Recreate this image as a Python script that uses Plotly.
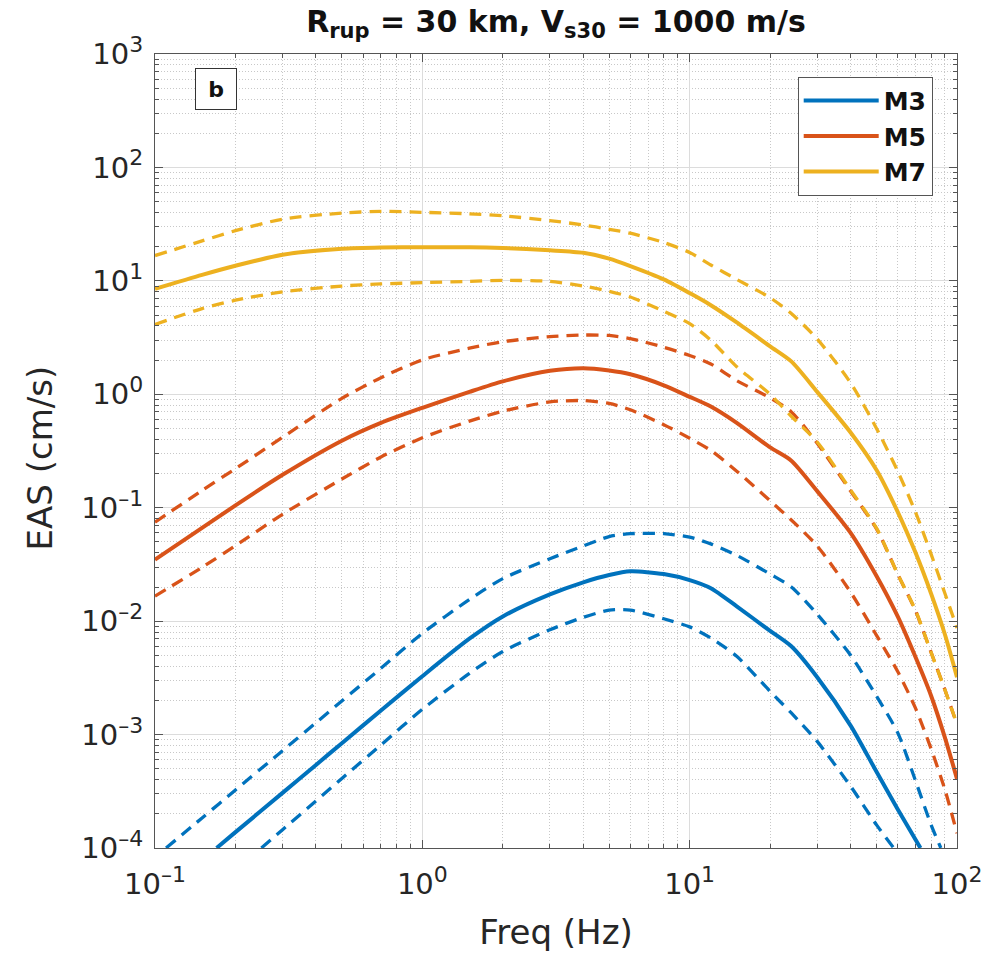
import plotly.graph_objects as go

# ---------------- data ----------------
freq = [0.1, 0.15, 0.2, 0.3, 0.5, 0.7, 1, 1.5, 2, 3, 4, 5, 6, 8, 10, 12, 15,
        20, 24, 30, 40, 50, 60, 70, 80, 90, 100]

m7_mean = [8.5, 11.3, 13.6, 17.0, 19.2, 19.7, 19.8, 19.8, 19.5, 18.6, 17.7, 15.7,
           13.5, 10.3, 7.8, 6.1, 4.3, 2.65, 1.95, 1.05, 0.46, 0.215, 0.092, 0.040,
           0.0175, 0.0077, 0.0032]
m7_upper = [16.7, 22.5, 27.7, 35, 39.6, 41, 40.2, 39, 37.5, 34, 31.1, 28.5, 26.3,
            21.8, 17.8, 13.8, 10.3, 7.1, 5.15, 3.07, 1.26, 0.50, 0.21, 0.091,
            0.039, 0.0177, 0.0087]
m7_lower = [4.13, 5.7, 6.75, 8.0, 9.0, 9.4, 9.64, 9.9, 10.1, 9.9, 9.0, 8.1, 7.2,
            5.4, 4.2, 3.0, 1.75, 1.0, 0.64, 0.38, 0.143, 0.066, 0.026, 0.0124,
            0.0053, 0.0025, 0.00124]

m5_mean = [0.0348, 0.0663, 0.1048, 0.195, 0.39, 0.56, 0.76, 1.05, 1.30, 1.61, 1.70,
           1.62, 1.5, 1.2, 0.95, 0.78, 0.56, 0.34, 0.26, 0.14, 0.06, 0.025, 0.011,
           0.0048, 0.0022, 0.00095, 0.000407]
m5_upper = [0.0745, 0.142, 0.221, 0.418, 0.92, 1.4, 2.01, 2.55, 2.91, 3.22, 3.33,
            3.3, 3.1, 2.6, 2.2, 1.85, 1.32, 0.93, 0.7, 0.37, 0.14, 0.065, 0.026,
            0.0123, 0.0053, 0.0025, 0.00123]
m5_lower = [0.0166, 0.0298, 0.0463, 0.0875, 0.179, 0.28, 0.414, 0.58, 0.71, 0.857,
            0.88, 0.83, 0.73, 0.54, 0.41, 0.32, 0.21, 0.115, 0.078, 0.046, 0.018,
            0.0075, 0.0036, 0.0017, 0.00075, 0.00033, 0.000135]

m3_mean_f = [0.17, 0.2, 0.3, 0.4, 0.5, 0.7, 1, 1.5, 2, 3, 4, 5, 6, 8, 10, 12, 15,
             20, 24, 30, 40, 50, 60, 73]
m3_mean = [1e-4, 1.38e-4, 3.06e-4, 5.4e-4, 8.4e-4, 1.63e-3, 3.27e-3, 7.0e-3, 0.011,
           0.0172, 0.022, 0.0255, 0.0275, 0.026, 0.023, 0.0195, 0.0135, 0.0082,
           0.006, 0.0032, 0.0012, 4.7e-4, 2.2e-4, 1e-4]
m3_upper_f = [0.11, 0.15, 0.2, 0.3, 0.4, 0.5, 0.7, 1, 1.5, 2, 3, 4, 5, 6, 8, 10,
              12, 15, 20, 24, 30, 40, 50, 60, 70, 80, 87]
m3_upper = [1e-4, 1.84e-4, 3.25e-4, 7.2e-4, 1.27e-3, 1.98e-3, 3.84e-3, 7.8e-3, 0.0155,
            0.0237, 0.0355, 0.046, 0.0557, 0.059, 0.059, 0.055, 0.048, 0.038,
            0.026, 0.020, 0.0115, 0.005, 0.00218, 0.00104, 3.9e-4, 1.6e-4, 1e-4]
m3_lower_f = [0.25, 0.3, 0.4, 0.5, 0.7, 1, 1.5, 2, 3, 4, 5, 6, 8, 10, 12, 15, 20,
              24, 30, 40, 50, 58]
m3_lower = [1e-4, 1.45e-4, 2.6e-4, 4.1e-4, 8.1e-4, 1.67e-3, 3.46e-3, 5.4e-3, 8.4e-3,
            0.0108, 0.0125, 0.0125, 0.0105, 0.0089, 0.0071, 0.0049, 0.0024,
            0.00155, 8.7e-4, 3.5e-4, 1.6e-4, 1e-4]

x_tick_vals = [0.1, 1, 10, 100]
x_tick_exp = ["\u20131", "0", "1", "2"]
y_tick_vals = [1e-4, 1e-3, 1e-2, 1e-1, 1, 10, 100, 1000]
y_tick_exp = ["\u20134", "\u20133", "\u20132", "\u20131", "0", "1", "2", "3"]


def pow_label(e):
    return "10<sup><span style='font-size:22px'>" + e + "</span></sup>"


x_tick_text = [pow_label(e) for e in x_tick_exp]
y_tick_text = [pow_label(e) for e in y_tick_exp]

C3, C5, C7 = "#0072BD", "#D95319", "#EDB120"
FONT = "DejaVu Sans"
TXT = "#262626"

fig = go.Figure()

series = [
    ("M3", C3, (m3_mean_f, m3_mean), (m3_upper_f, m3_upper), (m3_lower_f, m3_lower)),
    ("M5", C5, (freq, m5_mean), (freq, m5_upper), (freq, m5_lower)),
    ("M7", C7, (freq, m7_mean), (freq, m7_upper), (freq, m7_lower)),
]
for name, col, mean, up, lo in series:
    for (fx, fy) in (up, lo):
        fig.add_trace(go.Scatter(x=fx, y=fy, mode="lines", showlegend=False,
                                 line=dict(color=col, width=3.3, dash="12px,8px",
                                           shape="spline", smoothing=0.7),
                                 hoverinfo="skip"))
    fig.add_trace(go.Scatter(x=mean[0], y=mean[1], mode="lines", name=name,
                             line=dict(color=col, width=4, shape="spline", smoothing=0.7)))

minor_x = [k * 10 ** n for n in (-1, 0, 1) for k in range(2, 10)]
minor_y = [k * 10.0 ** n for n in range(-4, 3) for k in range(2, 10)]

axis_common = dict(
    type="log", showline=True, linecolor="#555555", linewidth=1, mirror="allticks",
    ticks="inside", ticklen=8, tickcolor="#555555", tickwidth=1,
    showgrid=True, gridcolor="#dcdcdc", gridwidth=1, zeroline=False,
    tickfont=dict(family=FONT, size=29, color=TXT),
)

fig.update_xaxes(**axis_common, range=[-1, 2], tickmode="array",
                 tickvals=x_tick_vals, ticktext=x_tick_text,
                 minor=dict(tickmode="array", tickvals=minor_x, ticks="inside",
                            ticklen=4, tickcolor="#555555", showgrid=True,
                            gridcolor="#c8c8c8", griddash="1px,2px", gridwidth=1),
                 ticklabelstandoff=10,
                 title=dict(text="Freq (Hz)", font=dict(family=FONT, size=34, color=TXT),
                            standoff=20))
fig.update_yaxes(**axis_common, range=[-4, 3], tickmode="array",
                 tickvals=y_tick_vals, ticktext=y_tick_text,
                 minor=dict(tickmode="array", tickvals=minor_y, ticks="inside",
                            ticklen=4, tickcolor="#555555", showgrid=True,
                            gridcolor="#c8c8c8", griddash="1px,2px", gridwidth=1),
                 ticklabelstandoff=5)

fig.update_layout(
    width=1008, height=957,
    margin=dict(l=155, r=51, t=54, b=104),
    paper_bgcolor="white", plot_bgcolor="white",
    title=dict(text="<b>R<sub>rup</sub> = 30 km, V<sub>s30</sub> = 1000 m/s</b>",
               x=556 / 1008, xanchor="center", y=0.989, yanchor="top",
               font=dict(family=FONT, size=30, color="#111111")),
    legend=dict(x=0.9697, xanchor="right", y=0.9712, yanchor="top",
                bgcolor="white", bordercolor="#555555", borderwidth=1,
                font=dict(family=FONT, size=25, color="#111111", weight="bold"),
                itemwidth=75),
    annotations=[
        dict(text="<b>b</b>", xref="paper", yref="paper",
             x=(216 - 155) / 802, y=(853 - 89) / 799, xanchor="center", yanchor="middle",
             showarrow=False, width=38, height=38, borderpad=1,
             bordercolor="#333333", borderwidth=1, bgcolor="white",
             font=dict(family=FONT, size=22, color="#111111")),
        dict(text="EAS (cm/s)", xref="paper", yref="paper", textangle=-90,
             x=(40 - 155) / 802, y=(853 - 461) / 799, xanchor="center", yanchor="middle",
             showarrow=False, font=dict(family=FONT, size=34, color=TXT)),
    ],
)

fig.write_html("out.html")
